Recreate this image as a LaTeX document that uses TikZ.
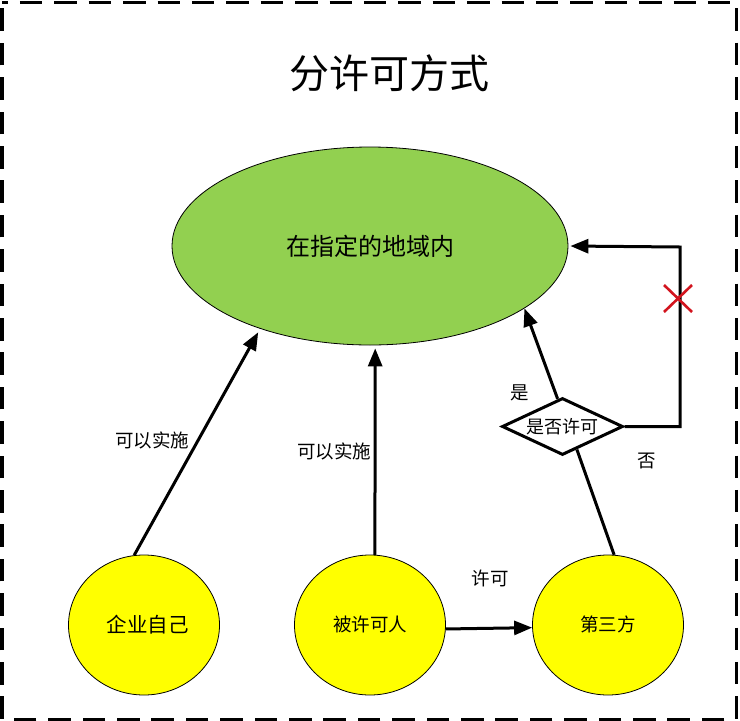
\documentclass[tikz,border=0pt]{standalone}
\usepackage{fontspec}
\setmainfont{Noto Sans CJK SC}
\usetikzlibrary{shapes.geometric,arrows.meta}
\definecolor{persony}{HTML}{FFFF00}
\definecolor{maingreen}{HTML}{92D050}
\definecolor{crossred}{HTML}{D2141E}
\tikzset{
  fs/.style={font=\fontsize{#1}{#1}\selectfont},
  label text/.style={fs=18.5,inner sep=0pt},
  big ellipse/.style={ellipse,draw=black,line width=0.8pt,fill=maingreen,inner sep=0pt},
  person/.style={ellipse,draw=black,line width=0.8pt,fill=persony,minimum width=151pt,minimum height=140pt,inner sep=0pt,fs=18.5},
  link/.style={line width=3pt,draw=black},
  arrowlink/.style={link,-{Triangle[length=18pt,width=14pt]}},
  cross/.style={line width=2.6pt,draw=crossred}
}
\begin{document}
\begin{tikzpicture}[x=1pt,y=-1pt]
\useasboundingbox (0,0) rectangle (740,721);
\draw[line width=3pt,dash pattern=on 22.5pt off 11.9pt,dash phase=16.5pt] (2,2) -- (736,2) -- (736,719) -- (2,719) -- cycle;
\node[fs=40,inner sep=0pt] (title) at (389,73) {分许可方式};
\node[big ellipse,minimum width=396pt,minimum height=198pt,fs=24] (main) at (370,246) {在指定的地域内};
\node[person,fs=20.5] (self) at (144,625) {\hspace{7pt}\raisebox{2pt}{企业自己}};
\node[person] (licensee) at (370,625) {\raisebox{2pt}{被许可人}};
\node[person] (third) at (608,625) {\raisebox{3pt}{第三方}};
\node[diamond,draw=black,line width=3pt,fill=white,aspect=2.12,minimum width=121pt,minimum height=57pt,inner sep=0pt,fs=18] (ask) at (562.5,426.5) {\raisebox{2pt}{是否许可}};
\coordinate (bend) at (680,247);
\draw[arrowlink,shorten >=4pt] (self.98) -- (main.217.6);
\draw[arrowlink,shorten >=3pt] (licensee.86) -- (main.273.4);
\draw[arrowlink] (licensee.-3.8) -- (third.182);
\draw[link] (third.85) -- (ask.-58);
\draw[arrowlink] (ask.100) -- (main.-22);
\draw[arrowlink,shorten >=2pt] (ask.east) -| (bend) -- (main.east);
\coordinate (xa) at (664,285);
\coordinate (xb) at (692,312);
\coordinate (xc) at (692,285);
\coordinate (xd) at (664,312);
\draw[cross] (xa) -- (xb);
\draw[cross] (xc) -- (xd);
\node[label text] (l1) at (152,440) {可以实施};
\node[label text] (l2) at (334,451) {可以实施};
\node[label text] (l3) at (490,578) {许可};
\node[label text] (l4) at (520,393) {是};
\node[label text] (l5) at (647,461) {否};
\end{tikzpicture}
\end{document}
